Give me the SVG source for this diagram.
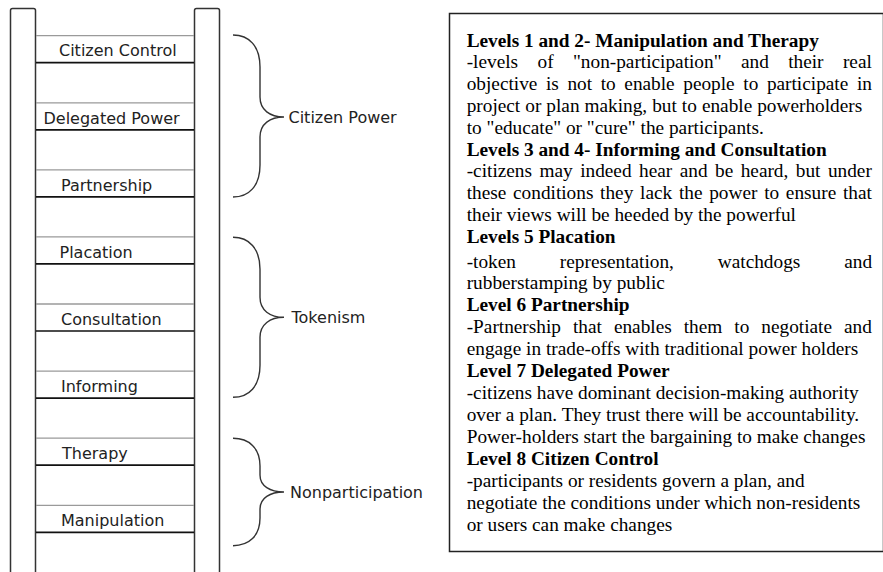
<svg xmlns="http://www.w3.org/2000/svg" width="883" height="572" viewBox="0 0 883 572">
<style>
.rail{fill:#fff;stroke:#333;stroke-width:1.5}
.rt{stroke:#9a9a9a;stroke-width:1.3}
.rb{stroke:#111;stroke-width:1.7}
.lbl{font-family:"DejaVu Sans",sans-serif;font-size:16px;fill:#222}
.brace{fill:none;stroke:#333;stroke-width:1.4}
.box{fill:#fff;stroke:#222;stroke-width:1.5}
.t{font-family:"Liberation Serif","Times New Roman",serif;font-size:19.3px;fill:#000}
.b{font-weight:bold}
</style>
<rect x="0" y="0" width="883" height="572" fill="#fff"/>
<g id="ladder">
<rect class="rail" x="10.5" y="8.5" width="25" height="600" rx="2"/>
<rect class="rail" x="194.5" y="8.5" width="25" height="600" rx="2"/>
</g>
<g id="rung-citizen-control">
<line class="rt" x1="36" y1="35.7" x2="194" y2="35.7"/><line class="rb" x1="36" y1="62.7" x2="194" y2="62.7"/>
<text class="lbl" x="59" y="55.7">Citizen Control</text>
</g>
<g id="rung-delegated-power">
<line class="rt" x1="36" y1="102.8" x2="194" y2="102.8"/><line class="rb" x1="36" y1="129.8" x2="194" y2="129.8"/>
<text class="lbl" x="43.5" y="123.5">Delegated Power</text>
</g>
<g id="rung-partnership">
<line class="rt" x1="36" y1="169.9" x2="194" y2="169.9"/><line class="rb" x1="36" y1="196.9" x2="194" y2="196.9"/>
<text class="lbl" x="61" y="190.8">Partnership</text>
</g>
<g id="rung-placation">
<line class="rt" x1="36" y1="236.9" x2="194" y2="236.9"/><line class="rb" x1="36" y1="263.9" x2="194" y2="263.9"/>
<text class="lbl" x="59.5" y="258">Placation</text>
</g>
<g id="rung-consultation">
<line class="rt" x1="36" y1="304" x2="194" y2="304"/><line class="rb" x1="36" y1="331" x2="194" y2="331"/>
<text class="lbl" x="61" y="325">Consultation</text>
</g>
<g id="rung-informing">
<line class="rt" x1="36" y1="371.1" x2="194" y2="371.1"/><line class="rb" x1="36" y1="398.1" x2="194" y2="398.1"/>
<text class="lbl" x="61" y="391.8">Informing</text>
</g>
<g id="rung-therapy">
<line class="rt" x1="36" y1="438.2" x2="194" y2="438.2"/><line class="rb" x1="36" y1="465.2" x2="194" y2="465.2"/>
<text class="lbl" x="62" y="458.8">Therapy</text>
</g>
<g id="rung-manipulation">
<line class="rt" x1="36" y1="505.3" x2="194" y2="505.3"/><line class="rb" x1="36" y1="532.3" x2="194" y2="532.3"/>
<text class="lbl" x="61" y="525.8">Manipulation</text>
</g>
<g id="connectors">
<path class="brace" d="M233,35 C249,35 260,46 260,67 L260,97 C260,110 270,117 284,117 C270,117 260,124 260,137 L260,165 C260,186 249,197 233,197"/>
<path class="brace" d="M233,237.3 C249,237.3 260,248.3 260,269.3 L260,297.3 C260,310.3 270,317.3 284,317.3 C270,317.3 260,324.3 260,337.3 L260,365.3 C260,386.3 249,397.3 233,397.3"/>
<path class="brace" d="M233,438.3 C249,438.3 260,448 260,466 L260,475 C260,486 270,492 284,492 C270,492 260,498 260,509 L260,518 C260,536 249,545.7 233,545.7"/>
</g>
<g id="group-citizen-power"><text class="lbl" x="288.5" y="123">Citizen Power</text></g>
<g id="group-tokenism"><text class="lbl" x="291.5" y="323.3">Tokenism</text></g>
<g id="group-nonparticipation"><text class="lbl" x="290" y="497.5">Nonparticipation</text></g>
<g id="description">
<rect class="box" x="449.5" y="13.5" width="434" height="538"/>
<text class="t b" x="466.7" y="46.5">Levels 1 and 2- Manipulation and Therapy</text>
<text class="t" x="466.7" y="68.3" word-spacing="14.6">-levels of "non-participation" and their real</text>
<text class="t" x="466.7" y="90.1" word-spacing="3.8">objective is not to enable people to participate in</text>
<text class="t" x="466.7" y="111.9" word-spacing="0.2">project or plan making, but to enable powerholders</text>
<text class="t" x="466.7" y="133.7">to "educate" or "cure" the participants.</text>
<text class="t b" x="466.7" y="155.5">Levels 3 and 4- Informing and Consultation</text>
<text class="t" x="466.7" y="177.3" word-spacing="2.66">-citizens may indeed hear and be heard, but under</text>
<text class="t" x="466.7" y="199.1" word-spacing="1.92">these conditions they lack the power to ensure that</text>
<text class="t" x="466.7" y="220.9">their views will be heeded by the powerful</text>
<text class="t b" x="466.7" y="242.7">Levels 5 Placation</text>
<text class="t" x="466.7" y="267.5" word-spacing="39.1">-token representation, watchdogs and</text>
<text class="t" x="466.7" y="289.3">rubberstamping by public</text>
<text class="t b" x="466.7" y="311.1">Level 6 Partnership</text>
<text class="t" x="466.7" y="333" word-spacing="7.2">-Partnership that enables them to negotiate and</text>
<text class="t" x="466.7" y="355">engage in trade-offs with traditional power holders</text>
<text class="t b" x="466.7" y="377">Level 7 Delegated Power</text>
<text class="t" x="466.7" y="399">-citizens have dominant decision-making authority</text>
<text class="t" x="466.7" y="421">over a plan. They trust there will be accountability.</text>
<text class="t" x="466.7" y="443">Power-holders start the bargaining to make changes</text>
<text class="t b" x="466.7" y="465">Level 8 Citizen Control</text>
<text class="t" x="466.7" y="487">-participants or residents govern a plan, and</text>
<text class="t" x="466.7" y="509">negotiate the conditions under which non-residents</text>
<text class="t" x="466.7" y="531">or users can make changes</text>
</g>
</svg>
